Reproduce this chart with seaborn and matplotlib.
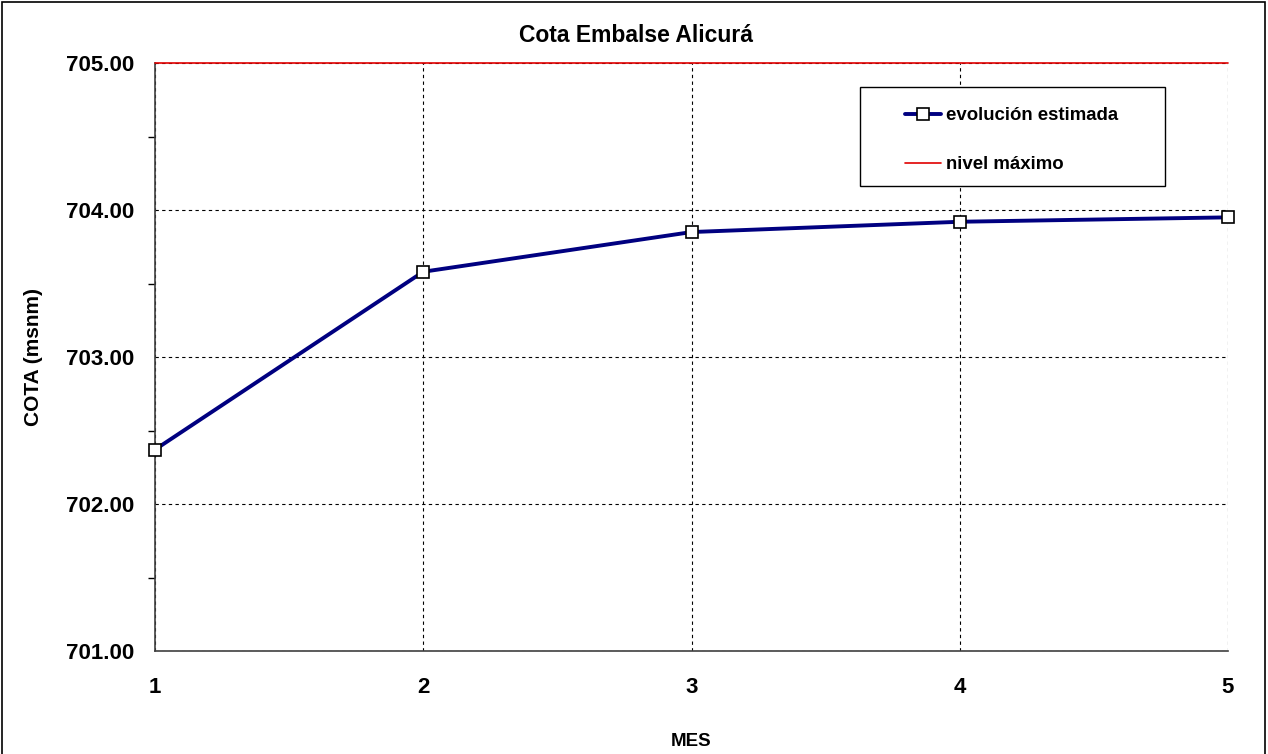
import matplotlib
matplotlib.use("Agg")
import matplotlib.pyplot as plt
import seaborn as sns
import pandas as pd
from matplotlib.ticker import MultipleLocator, FormatStrFormatter
from matplotlib.patches import Rectangle

mes = [1, 2, 3, 4, 5]
cota = [702.37, 703.58, 703.85, 703.92, 703.95]
nivel_maximo = 705.00
titulo = "Cota Embalse Alicurá"
serie1 = "evolución estimada"
serie2 = "nivel máximo"

sns.set_style("white")
plt.rcParams['font.family'] = ['Liberation Sans', 'DejaVu Sans']
plt.rcParams.update({"text.color": "black", "axes.labelcolor": "black",
                     "xtick.color": "black", "ytick.color": "black"})

W, H = 1268, 754
fig = plt.figure(figsize=(W / 100, H / 100), dpi=100)
ax = fig.add_axes([155 / W, 1 - 651 / H, (1228 - 155) / W, (651 - 63) / H])

df = pd.DataFrame({"mes": mes, "cota": cota})
sns.lineplot(data=df, x="mes", y="cota", ax=ax, color="#000080", lw=2.8,
             marker="s", markersize=8.5, markerfacecolor="white",
             markeredgecolor="black", markeredgewidth=1.2, label=serie1,
             zorder=4, clip_on=False)
ax.axhline(nivel_maximo, color="#e00000", lw=1.2, label=serie2, zorder=3, clip_on=False)

ax.set_xlim(1, 5)
ax.set_ylim(701, 705)
ax.xaxis.set_major_locator(MultipleLocator(1))
ax.yaxis.set_major_locator(MultipleLocator(1))
ax.yaxis.set_minor_locator(MultipleLocator(0.5))
ax.yaxis.set_major_formatter(FormatStrFormatter("%.2f"))

ax.grid(True, which="major", color="black", linestyle=(0, (3, 3)), lw=0.8)
for s in ["top", "right"]:
    ax.spines[s].set_visible(False)
for s in ["left", "bottom"]:
    ax.spines[s].set_color("#404040")
    ax.spines[s].set_linewidth(1.2)

ax.tick_params(axis="y", which="major", direction="out", length=7, width=1,
               colors="black", labelsize=16, pad=8)
ax.tick_params(axis="y", which="minor", direction="out", length=5, width=1, left=True)
ax.tick_params(axis="x", which="major", direction="inout", length=10, width=1,
               labelsize=16, pad=14)
for lab in ax.get_xticklabels() + ax.get_yticklabels():
    lab.set_fontweight("bold")

ax.set_xlabel("MES", fontsize=13.5, fontweight="bold")
ax.set_ylabel("COTA (msnm)", fontsize=15, fontweight="bold")
ax.xaxis.set_label_coords(0.5, (651 - 733) / 588)
ax.yaxis.set_label_coords((43 - 155) / 1073, 0.5)
fig.text(636 / W, 1 - 35 / H, titulo, ha="center", va="center",
         fontsize=16.5, fontweight="bold")

frame = Rectangle((860 / W, 1 - 186 / H), (1165 - 860) / W, (186 - 87) / H,
                  transform=fig.transFigure, fill=True, facecolor="white",
                  edgecolor="black", lw=1.0, zorder=4.5, clip_on=False)
ax.add_patch(frame)

leg = ax.legend(loc="upper left", bbox_to_anchor=(905 / W, 1 - 107 / H),
                bbox_transform=fig.transFigure, frameon=False,
                prop={"weight": "bold", "size": 13.4}, handlelength=1.95,
                handletextpad=0.25, labelspacing=1.72, borderpad=0, borderaxespad=0)
leg.set_zorder(6)

fig.patches.append(Rectangle((2 / W, -0.01), 1 - 5 / W, 1 - 2 / H + 0.01,
                             transform=fig.transFigure, fill=False, edgecolor="black", lw=1.2))

fig.savefig("out.png", dpi=100)
